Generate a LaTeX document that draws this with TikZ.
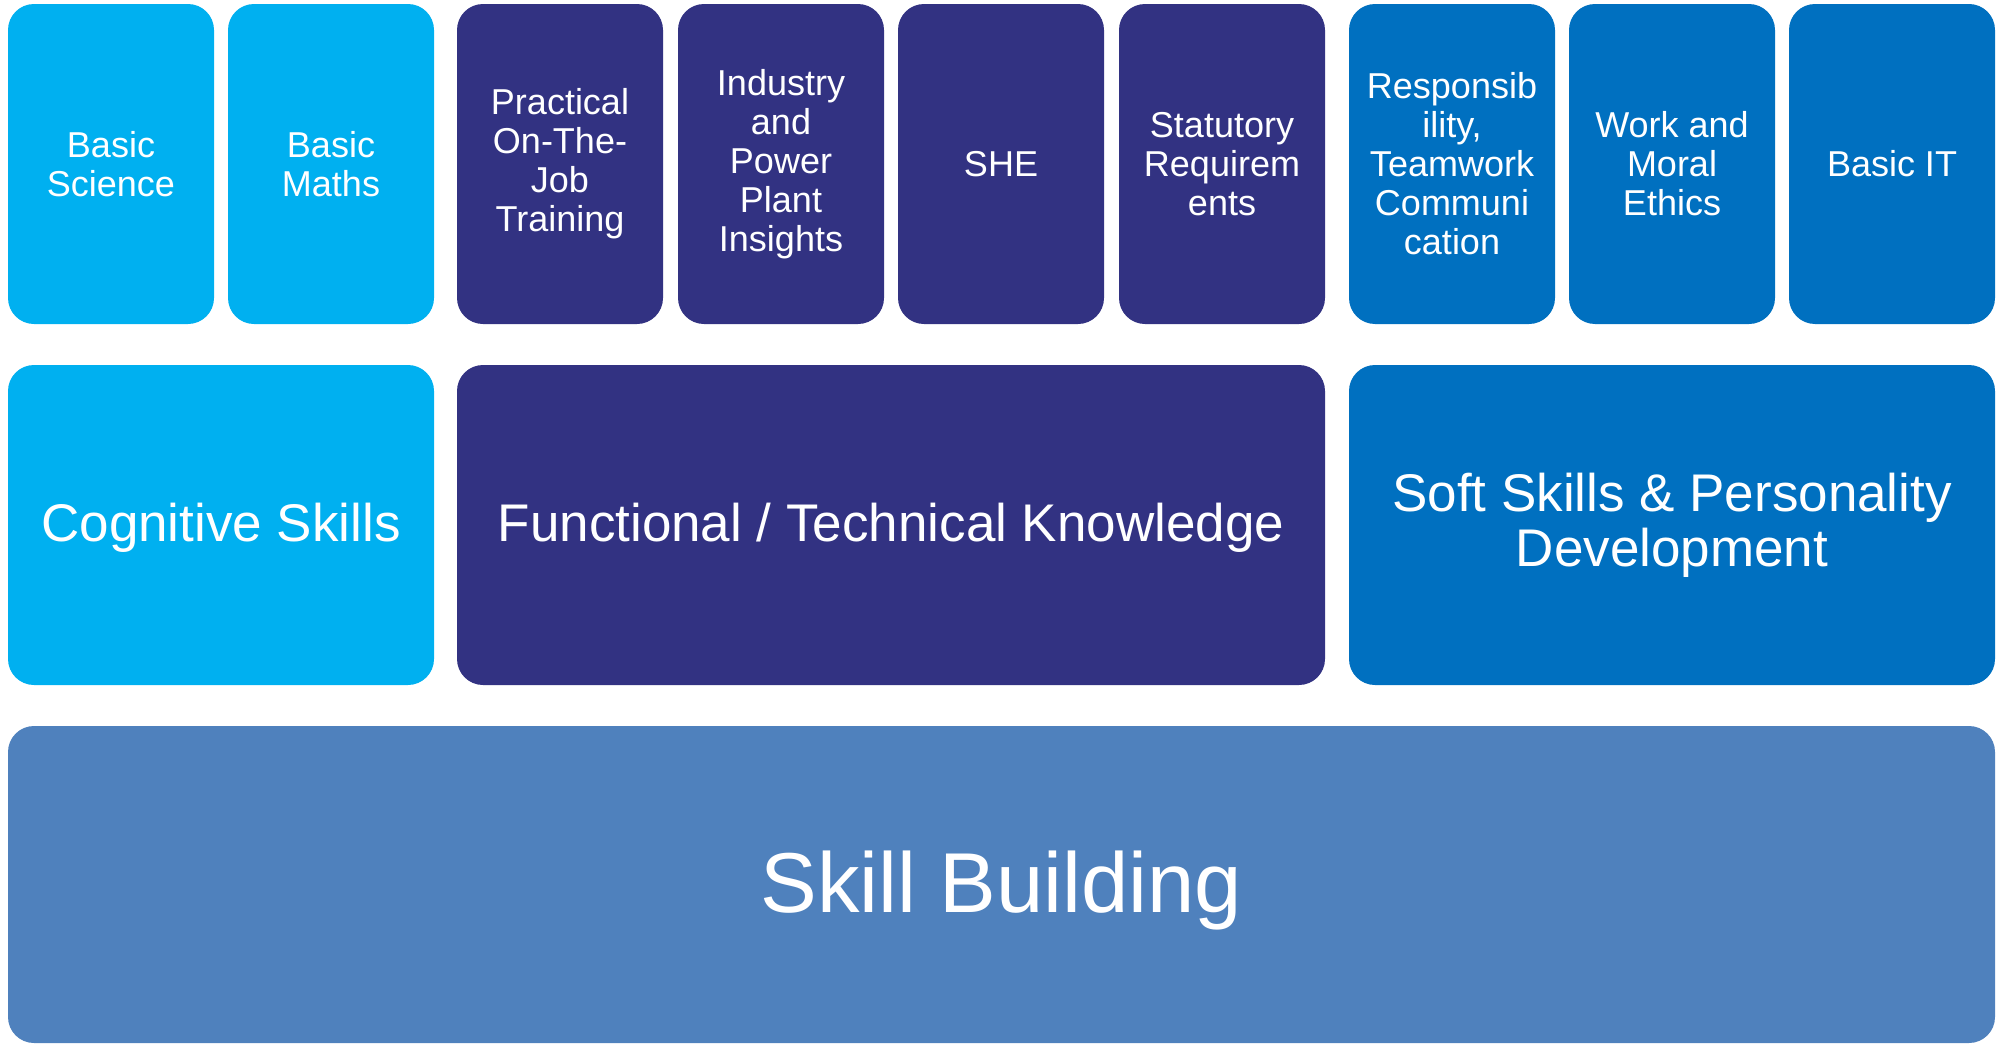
\documentclass[tikz,border=0pt]{standalone}
\usepackage{fontspec}
\setmainfont{Liberation Sans}
\definecolor{cyanbox}{RGB}{0,176,240}
\definecolor{navybox}{RGB}{50,50,130}
\definecolor{bluebox}{RGB}{0,112,192}
\definecolor{basebox}{RGB}{79,129,189}
\newcommand{\lowertext}[2]{\raisebox{-#1}[\height][\depth]{#2}}
\tikzset{
  tile/.style={rectangle, rounded corners=26pt, inner sep=0pt, text=white, align=center,
    minimum width=206pt, minimum height=320pt, font=\fontsize{36}{39}\selectfont},
  pillar/.style={rectangle, rounded corners=26pt, inner sep=0pt, text=white, align=center,
    minimum height=320pt, font=\fontsize{53}{55}\selectfont},
  basebar/.style={rectangle, rounded corners=26pt, inner sep=0pt, text=white, align=center,
    minimum width=1987pt, minimum height=317pt, font=\fontsize{85}{90}\selectfont}
}
\begin{document}
\begin{tikzpicture}[x=1pt,y=-1pt]
\useasboundingbox (0,0) rectangle (1998,1044);
% top row
\node[tile, fill=cyanbox] (sci) at (111,164) {Basic\\Science};
\node[tile, fill=cyanbox] (math) at (331,164) {Basic\\Maths};
\node[tile, fill=navybox] (ojt) at (560,164) {Practical\\On-The-\\Job\\Training};
\node[tile, fill=navybox] (ind) at (781,164) {Industry\\and\\Power\\Plant\\Insights};
\node[tile, fill=navybox] (she) at (1001,164) {SHE};
\node[tile, fill=navybox] (stat) at (1222,164) {Statutory\\Requirem\\ents};
\node[tile, fill=bluebox] (resp) at (1452,164) {Responsib\\ility,\\Teamwork\\Communi\\cation};
\node[tile, fill=bluebox] (work) at (1672,164) {Work and\\Moral\\Ethics};
\node[tile, fill=bluebox] (it) at (1892,164) {Basic IT};
% middle row
\node[pillar, fill=cyanbox, minimum width=426pt] (cog) at (221,525) {\lowertext{3pt}{Cognitive Skills}};
\node[pillar, fill=navybox, minimum width=868pt] (func) at (891,525) {\lowertext{3pt}{Functional / Technical Knowledge}};
\node[pillar, fill=bluebox, minimum width=646pt] (soft) at (1672,525) {Soft Skills \& Personality\\Development};
% bottom
\node[basebar, fill=basebox] (skill) at (1001.5,884.5) {\lowertext{6pt}{Skill Building}};
\end{tikzpicture}
\end{document}
